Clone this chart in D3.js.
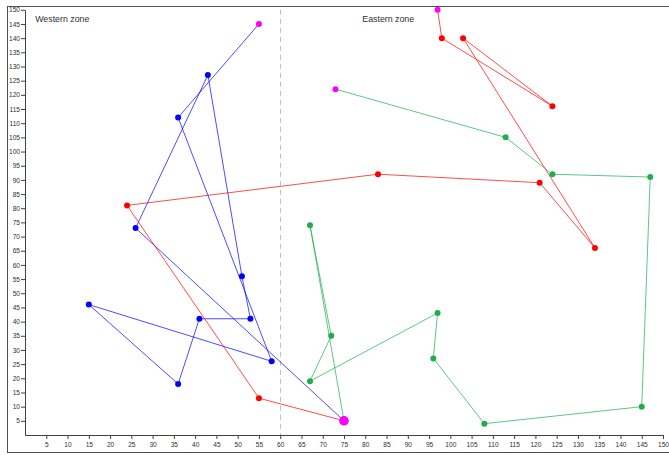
<!DOCTYPE html>
<html>
<head>
<meta charset="utf-8">
<script src="https://cdn.jsdelivr.net/npm/d3@7"></script>
<style>
  html, body { margin: 0; padding: 0; background: #fff; }
  svg { display: block; font-family: "Liberation Sans", Arial, sans-serif; }
</style>
</head>
<body>
<svg id="chart" width="669" height="455"></svg>
<script>
// Route of each track, in travel order (x, y)
const blueX  = [55, 36, 58, 15, 36, 41, 53, 51, 43, 26, 75];
const blueY  = [145, 112, 26, 46, 18, 41, 41, 56, 127, 73, 5];
const redX   = [97, 98, 124, 103, 134, 121, 83, 24, 55, 75];
const redY   = [150, 140, 116, 140, 66, 89, 92, 81, 13, 5];
const greenX = [73, 113, 124, 147, 145, 108, 96, 97, 67, 72, 67, 75];
const greenY = [122, 105, 92, 91, 10, 4, 27, 43, 19, 35, 74, 5];

const xTicks = d3.range(5, 151, 5);
const yTicks = d3.range(5, 151, 5);
const zoneBoundary = 60;
const zoneLabels = ["Western zone", "Eastern zone"];
const zoneLabelX = [2.4, 79.3];
const zoneLabelY = 145.6;

const series = [
  { xs: blueX,  ys: blueY,  color: "#0000ff" },
  { xs: redX,   ys: redY,   color: "#ff0000" },
  { xs: greenX, ys: greenY, color: "#1fae4b" }
];

const svg = d3.select("#chart");
const x = d3.scaleLinear().domain([0, 150]).range([25, 663]);
const y = d3.scaleLinear().domain([0, 150]).range([435, 9.8]);

// outer panel frame (right edge runs off the canvas)
svg.append("rect")
  .attr("x", 7.5).attr("y", 6.5)
  .attr("width", 700).attr("height", 446)
  .attr("fill", "none").attr("stroke", "#505050").attr("stroke-width", 1);

// zone divider
svg.append("line")
  .attr("x1", Math.round(x(zoneBoundary)) + 0.5).attr("x2", Math.round(x(zoneBoundary)) + 0.5)
  .attr("y1", y(150)).attr("y2", y(0))
  .attr("stroke", "#c0c0c0").attr("stroke-dasharray", "5,4");

// axes
const xAxis = svg.append("g")
  .attr("transform", `translate(0,${y(0)})`)
  .call(d3.axisBottom(x).tickValues(xTicks).tickSize(4).tickSizeOuter(0).tickPadding(3));
const yAxis = svg.append("g")
  .attr("transform", `translate(${x(0)},0)`)
  .call(d3.axisLeft(y).tickValues(yTicks).tickSize(4).tickSizeOuter(0).tickPadding(1));

[xAxis, yAxis].forEach(g => {
  g.select(".domain").attr("stroke", "#404040");
  g.selectAll(".tick line").attr("stroke", "#404040");
  g.selectAll(".tick text")
    .attr("fill", "#303030")
    .style("font-size", "6.6px")
    .style("font-family", "'Liberation Sans', Arial, sans-serif");
});

// zone captions
svg.selectAll("text.zone")
  .data(zoneLabels)
  .join("text")
  .attr("class", "zone")
  .attr("x", (d, i) => x(zoneLabelX[i]))
  .attr("y", y(zoneLabelY))
  .attr("fill", "#303030")
  .style("font-size", "8.8px")
  .text(d => d);

// tracks
const line = d3.line().x(d => x(d[0])).y(d => y(d[1]));
series.forEach(s => {
  const pts = s.xs.map((v, i) => [v, s.ys[i]]);
  svg.append("path")
    .attr("d", line(pts))
    .attr("fill", "none")
    .attr("stroke", s.color)
    .attr("stroke-opacity", 0.7)
    .attr("stroke-width", 1);
});

series.forEach(s => {
  const pts = s.xs.map((v, i) => [v, s.ys[i]]);
  const last = pts.length - 1;
  svg.append("g").selectAll("circle")
    .data(pts)
    .join("circle")
    .attr("cx", d => x(d[0]))
    .attr("cy", d => y(d[1]))
    .attr("r", (d, i) => i === last ? 4.5 : 3)
    .attr("fill", (d, i) => (i === 0 || i === last) ? "#ff00ff" : s.color);
});
</script>
</body>
</html>
